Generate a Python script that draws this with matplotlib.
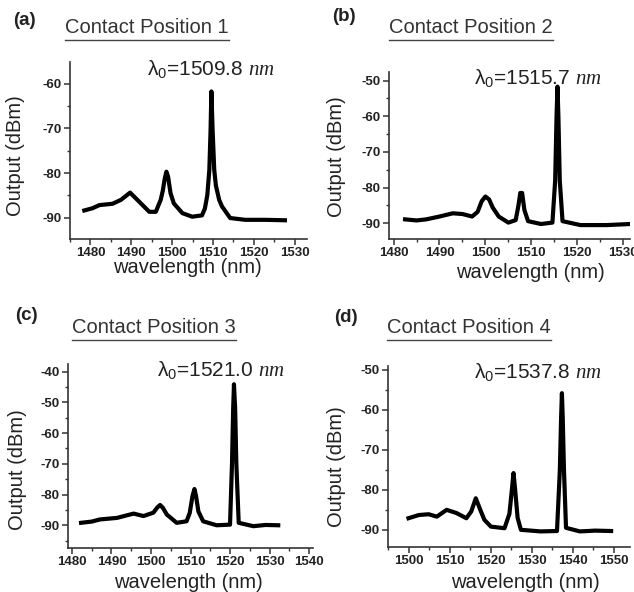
import matplotlib
matplotlib.use("Agg")
import matplotlib.pyplot as plt
from matplotlib.lines import Line2D
from matplotlib.ticker import MultipleLocator

plt.rcParams["font.family"] = ["Liberation Sans", "DejaVu Sans"]
plt.rcParams["mathtext.fontset"] = "custom"
plt.rcParams["mathtext.rm"] = "Liberation Sans"
plt.rcParams["mathtext.it"] = "Liberation Serif:italic"
plt.rcParams["mathtext.bf"] = "Liberation Sans:bold"
plt.rcParams["axes.unicode_minus"] = False

# spectra: wavelength (nm) and output (dBm)
wl_a = [1478.5, 1480.5, 1482.2, 1485.4, 1487.5, 1489.7, 1491.9, 1494.4, 1496.0,
        1497.2, 1497.7, 1498.2, 1498.6, 1499.0, 1499.6, 1500.4, 1502.5, 1504.9,
        1507.3, 1508.0, 1508.6, 1509.1, 1509.4, 1509.6, 1509.9, 1510.3, 1510.7,
        1511.5, 1512.2, 1514.2, 1517.9, 1522.7, 1527.6]
out_a = [-88.4, -87.9, -87.2, -86.9, -86.0, -84.4, -86.4, -88.7, -88.7,
         -86.0, -84.0, -81.2, -79.7, -80.8, -84.5, -86.8, -89.0, -89.8,
         -89.5, -88.0, -85.0, -79.3, -70.4, -61.7, -70.4, -79.3, -82.8,
         -86.0, -87.5, -90.1, -90.5, -90.5, -90.6]

wl_b = [1482.5, 1485.0, 1487.1, 1490.0, 1492.9, 1495.0, 1497.1, 1498.3, 1499.2,
        1500.0, 1500.8, 1501.6, 1502.9, 1505.0, 1506.6, 1507.2, 1507.6, 1508.0,
        1508.5, 1509.3, 1512.1, 1514.6, 1515.2, 1515.5, 1515.7, 1515.9, 1516.2,
        1516.8, 1520.7, 1526.4, 1531.5]
out_b = [-88.9, -89.2, -88.9, -88.1, -87.2, -87.4, -88.1, -86.8, -83.8,
         -82.5, -83.3, -85.6, -88.1, -89.8, -89.1, -85.0, -81.5, -81.5,
         -86.3, -89.4, -90.2, -89.8, -78.0, -60.0, -51.7, -60.0, -78.0,
         -89.4, -90.5, -90.5, -90.2]

wl_c = [1482.3, 1485.0, 1487.1, 1491.4, 1495.6, 1498.1, 1500.6, 1501.6, 1502.3,
        1503.0, 1504.0, 1506.5, 1509.0, 1509.8, 1510.5, 1511.0, 1511.4, 1512.0,
        1513.2, 1516.6, 1520.0, 1520.5, 1520.8, 1521.0, 1521.3, 1521.6, 1522.2,
        1525.9, 1529.0, 1532.2]
out_c = [-89.2, -88.8, -88.1, -87.6, -86.2, -87.0, -85.9, -84.2, -83.4,
         -84.3, -86.5, -89.2, -88.7, -86.0, -80.5, -78.2, -80.5, -85.5,
         -88.7, -90.0, -89.8, -70.0, -52.0, -44.1, -52.0, -70.0, -89.2,
         -90.3, -89.9, -90.0]

wl_d = [1500.0, 1502.5, 1504.9, 1506.9, 1509.3, 1511.7, 1514.1, 1515.3, 1516.4,
        1517.5, 1518.5, 1520.1, 1523.4, 1524.6, 1525.2, 1525.6, 1526.0, 1526.6,
        1527.4, 1532.2, 1536.2, 1536.9, 1537.2, 1537.4, 1537.6, 1537.9, 1538.4,
        1541.8, 1545.5, 1549.4]
out_d = [-87.1, -86.3, -86.1, -86.7, -85.0, -85.8, -87.1, -85.4, -82.1,
         -85.0, -87.5, -89.2, -89.6, -86.0, -80.0, -75.8, -80.0, -87.0,
         -90.0, -90.4, -90.3, -75.0, -62.0, -55.8, -62.0, -75.0, -89.5,
         -90.4, -90.2, -90.3]

tags = ["(a)", "(b)", "(c)", "(d)"]
titles = ["Contact Position 1", "Contact Position 2",
          "Contact Position 3", "Contact Position 4"]
peaks = ["1509.8", "1515.7", "1521.0", "1537.8"]
spectra = [(wl_a, out_a), (wl_b, out_b), (wl_c, out_c), (wl_d, out_d)]

W, H = 634, 592
fig = plt.figure(figsize=(W / 100, H / 100), dpi=100)


def px(x, y):
    return x / W, 1 - y / H


# layout in picture pixels: axes box (left, top, right, bottom), limits, text spots
panels = [
    dict(box=(70, 62, 307, 239), xlim=(1475, 1533), ylim=(-94.8, -55.1),
         tag=(13, 25), title=(65, 33), lam=(147, 75), ylab=(16, 156), xlab=(187, 268)),
    dict(box=(389, 72, 630, 239), xlim=(1479, 1531.5), ylim=(-94.4, -47.6),
         tag=(332, 21), title=(389, 33), lam=(474, 84), ylab=(336, 157), xlab=(530, 273)),
    dict(box=(68, 364, 313, 548), xlim=(1479, 1541), ylim=(-97.4, -37.5),
         tag=(15, 320), title=(72, 333), lam=(157, 376), ylab=(18, 470), xlab=(188, 582)),
    dict(box=(388, 366, 630, 547), xlim=(1495, 1554), ylim=(-94.3, -49.0),
         tag=(334, 322), title=(387, 333), lam=(474, 378), ylab=(337, 467), xlab=(525, 582)),
]

title_texts = []
for p, tag, title, peak, (wl, out) in zip(panels, tags, titles, peaks, spectra):
    l, t, r, b = p["box"]
    ax = fig.add_axes([l / W, 1 - b / H, (r - l) / W, (b - t) / H])
    ax.plot(wl, out, color="black", linewidth=3.0, solid_joinstyle="round")
    ax.set_xlim(*p["xlim"])
    ax.set_ylim(*p["ylim"])
    ax.xaxis.set_major_locator(MultipleLocator(10))
    ax.xaxis.set_minor_locator(MultipleLocator(5))
    ax.yaxis.set_major_locator(MultipleLocator(10))
    ax.yaxis.set_minor_locator(MultipleLocator(5))
    for side in ["top", "right"]:
        ax.spines[side].set_visible(False)
    for side in ["left", "bottom"]:
        ax.spines[side].set_linewidth(1.2)
        ax.spines[side].set_color("#333333")
    ax.tick_params(which="major", direction="out", length=4, width=1.1,
                   colors="#333333", labelsize=9.5, pad=2)
    ax.tick_params(which="minor", direction="out", length=2.2, width=1.0,
                   colors="#333333")
    for lab in ax.get_xticklabels() + ax.get_yticklabels():
        lab.set_fontweight("bold")
        lab.set_color("#222222")

    fig.text(*px(*p["tag"]), tag, fontsize=13.5, fontweight="bold",
             color="#222222", ha="left", va="baseline")
    tt = fig.text(*px(*p["title"]), title, fontsize=14.5, color="#333333",
                  ha="left", va="baseline")
    title_texts.append(tt)
    fig.text(*px(*p["lam"]), "λ$_0$=" + peak + r" $\mathit{nm}$", fontsize=15,
             color="#222222", ha="left", va="baseline")
    fig.text(*px(*p["ylab"]), "Output (dBm)", fontsize=14.5, color="#222222",
             rotation=90, ha="center", va="center")
    fig.text(*px(*p["xlab"]), "wavelength (nm)", fontsize=14.5, color="#222222",
             ha="center", va="center")

# underline the panel titles
fig.canvas.draw()
renderer = fig.canvas.get_renderer()
for tt in title_texts:
    bb = tt.get_window_extent(renderer)
    y = (bb.y0 - 3) / H
    fig.add_artist(Line2D([bb.x0 / W, bb.x1 / W], [y, y], color="#444444",
                          linewidth=1.0, transform=fig.transFigure))

fig.savefig("out.png", dpi=100)
